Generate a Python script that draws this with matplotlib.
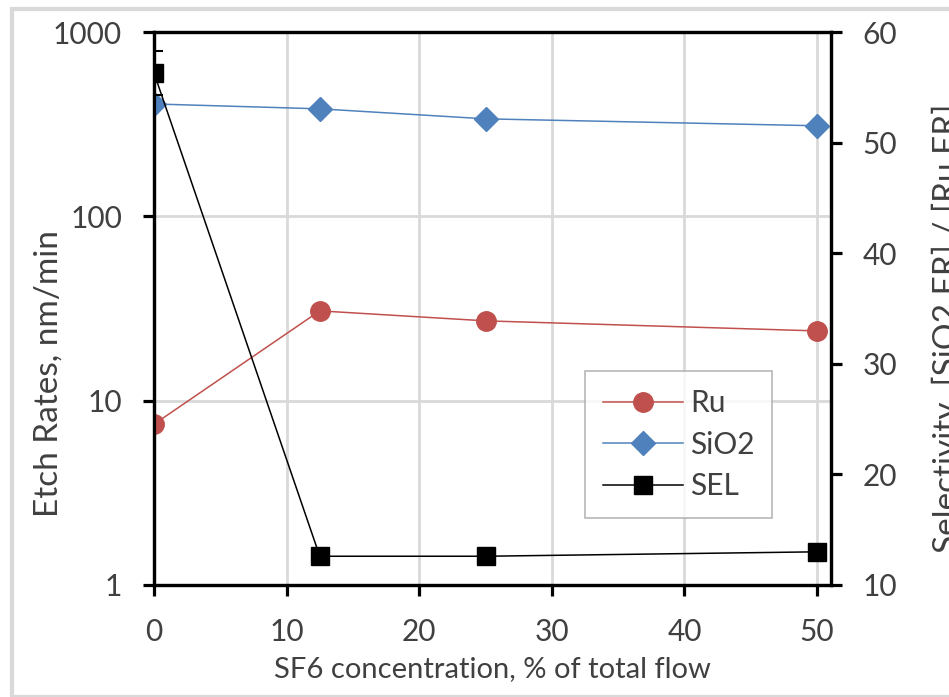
import matplotlib.pyplot as plt
from matplotlib.patches import Rectangle

plt.rcParams['font.family'] = ['Lato', 'DejaVu Sans']

sf6 = [0, 12.5, 25, 50]
ru_er = [7.45, 30.7, 27.1, 23.9]
sio2_er = [407, 383, 338, 310]
sel = [56.3, 12.6, 12.6, 13.0]
sel_err = [2.0, 0, 0, 0]

ru_color = '#c0504d'
sio2_color = '#4f81bd'
grid_color = '#d9d9d9'
text_color = '#404040'

fig = plt.figure(figsize=(9.49, 6.97), dpi=100)
fig.patches.append(Rectangle((12 / 949, 0), 1, 1 - 9 / 697, transform=fig.transFigure,
                             fill=False, edgecolor='#d9d9d9', linewidth=3))
ax = fig.add_axes([154 / 949, 1 - 585 / 697, 677 / 949, 553 / 697])
ax2 = ax.twinx()

ax.set_yscale('log')
ax.set_ylim(1, 1000)
ax.set_xlim(0, 51.05)
ax2.set_ylim(10, 60)

ax.grid(True, which='major', color=grid_color, linewidth=2, zorder=0)
ax.set_axisbelow(True)

l1, = ax.plot(sf6, ru_er, color=ru_color, linewidth=1.1, marker='o', markersize=14,
              label='Ru', zorder=3)
l2, = ax.plot(sf6, sio2_er, color=sio2_color, linewidth=1.1, marker='D', markersize=12,
              label='SiO2', zorder=3)
ax2.errorbar(sf6, sel, yerr=sel_err, color='black', linewidth=1.1, capsize=6.5,
             elinewidth=1.5, capthick=1.5, fmt='none', zorder=2)
l3, = ax2.plot(sf6, sel, color='black', linewidth=1.1, marker='s', markersize=13.5,
               label='SEL', zorder=3)

for a in (ax, ax2):
    for s in a.spines.values():
        s.set_linewidth(2.3)
    a.tick_params(axis='both', which='major', length=8, width=2.3,
                  labelsize=21.5, labelcolor=text_color)
    a.tick_params(axis='y', which='minor', length=0)

ax.set_xticks([0, 10, 20, 30, 40, 50])
ax.set_yticks([1, 10, 100, 1000])
ax.set_yticklabels(['1', '10', '100', '1000'])
ax2.set_yticks([10, 20, 30, 40, 50, 60])
ax.tick_params(axis='x', pad=16)
ax.tick_params(axis='y', pad=15)
ax2.tick_params(axis='y', pad=14.5)

ax.set_xlabel('SF6 concentration, % of total flow', fontsize=21, color=text_color, labelpad=7)
ax.set_ylabel('Etch Rates, nm/min', fontsize=24, color=text_color)
ax2.set_ylabel('Selectivity, [SiO2 ER] / [Ru ER]', fontsize=24, color=text_color)
ax.yaxis.set_label_coords(-0.134, 0.382)
ax2.yaxis.set_label_coords(1.149, 0.465)

leg = ax2.legend(handles=[l1, l2, l3], loc='lower left', bbox_to_anchor=(0.6366, 0.1212),
                 fontsize=21.5, frameon=True, fancybox=False, handlelength=2.68,
                 labelspacing=0.45, borderpad=0.6, handletextpad=0.23, borderaxespad=0)
leg.get_frame().set_edgecolor('#a6a6a6')
leg.get_frame().set_linewidth(1.2)
for t in leg.get_texts():
    t.set_color(text_color)
leg.set_zorder(5)

fig.savefig('out.png', dpi=100)
